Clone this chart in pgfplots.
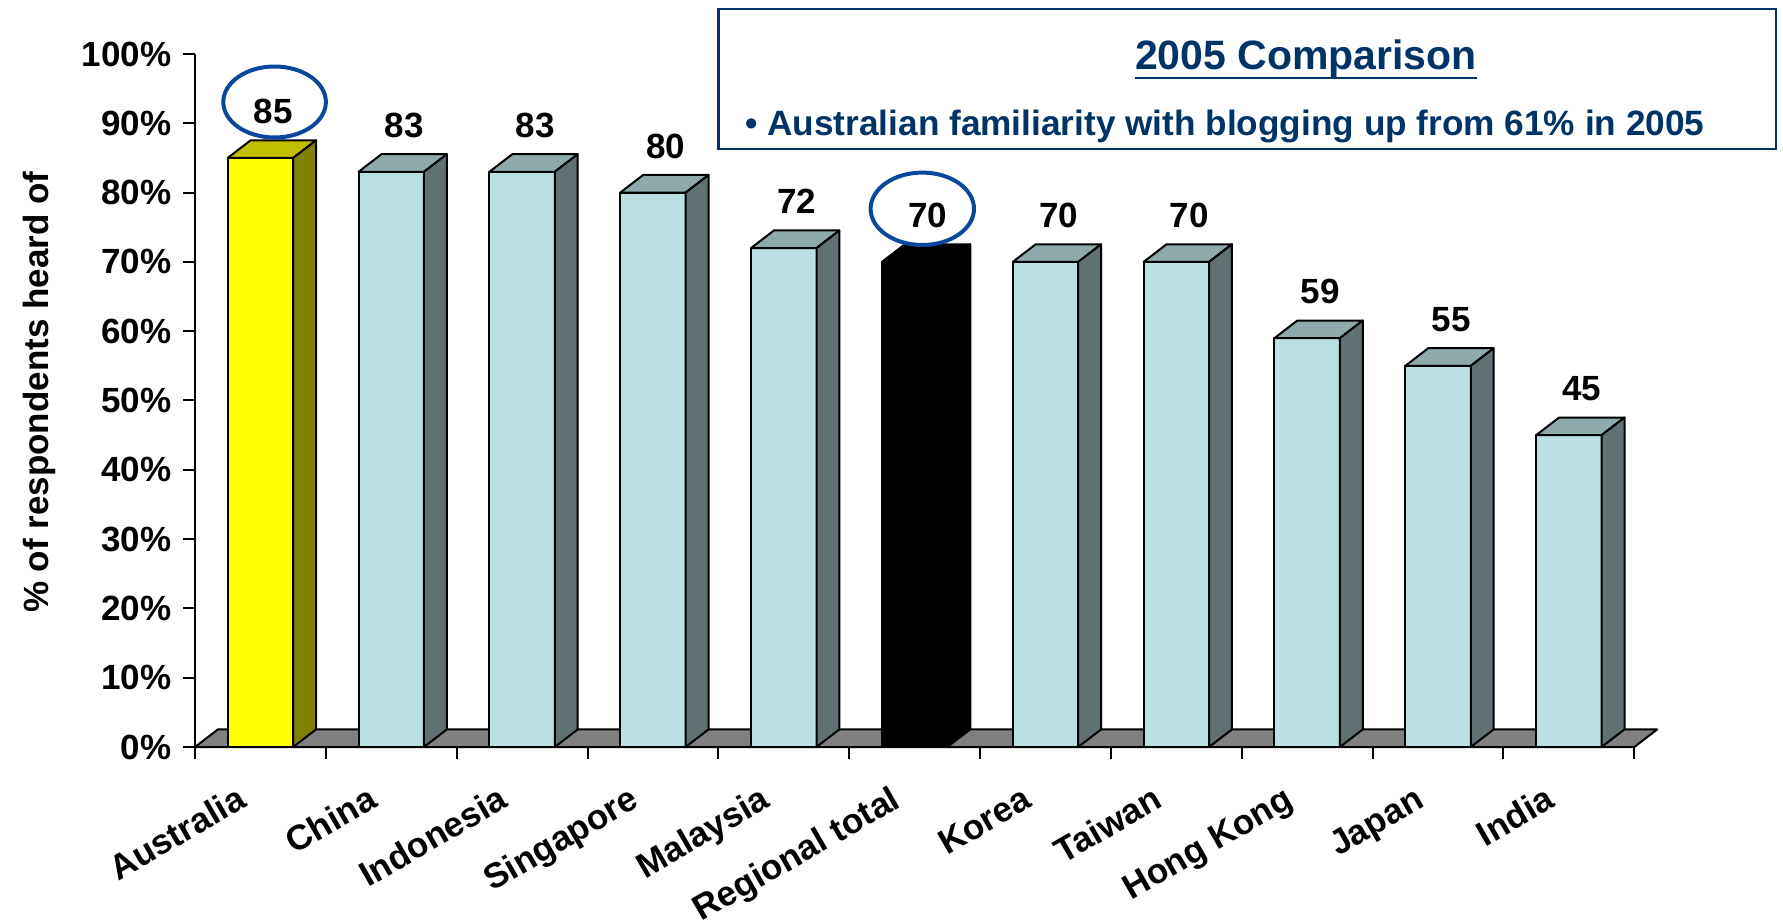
\documentclass[border=0pt]{standalone}
\usepackage{pgfplots}
\pgfplotsset{compat=1.18}
\usepackage{pgfplotstable}
\usepackage{fontspec}
\setmainfont{Liberation Sans}

\definecolor{lbfront}{RGB}{187,224,227}
\definecolor{lbtop}{RGB}{143,170,172}
\definecolor{lbside}{RGB}{95,113,115}
\definecolor{yfront}{RGB}{255,255,0}
\definecolor{ytop}{RGB}{192,192,0}
\definecolor{yside}{RGB}{128,128,0}
\definecolor{floorc}{RGB}{128,128,128}
\definecolor{navy}{RGB}{0,51,102}
\definecolor{ellc}{RGB}{10,70,155}

\pgfplotstableread{
x v
0.5 85
1.5 83
2.5 83
3.5 80
4.5 72
5.5 70
6.5 70
7.5 70
8.5 59
9.5 55
10.5 45
}\datatable

\newcommand\lblfont{\fontsize{17.5bp}{20bp}\selectfont\bfseries}

\newcommand\threedbar[5]{%
  \pgfmathsetmacro\bL{#1+0.25}%
  \pgfmathsetmacro\bR{#1+0.75}%
  \pgfmathsetmacro\bLd{#1+0.425}%
  \pgfmathsetmacro\bRd{#1+0.925}%
  \pgfmathsetmacro\bV{#2}%
  \pgfmathsetmacro\bVd{#2+2.54}%
  \addplot[fill=#3, draw=black, line width=1bp, line join=round] coordinates {(\bL,0) (\bR,0) (\bR,\bV) (\bL,\bV)} -- cycle;
  \addplot[fill=#4, draw=black, line width=1bp, line join=round] coordinates {(\bL,\bV) (\bR,\bV) (\bRd,\bVd) (\bLd,\bVd)} -- cycle;
  \addplot[fill=#5, draw=black, line width=1bp, line join=round] coordinates {(\bR,0) (\bRd,2.54) (\bRd,\bVd) (\bR,\bV)} -- cycle;
}

\begin{document}
\begin{tikzpicture}
\begin{axis}[
  at={(0,0)}, anchor=south west,
  scale only axis, width=719.65bp, height=346.5bp,
  xmin=0, xmax=11, ymin=0, ymax=100, clip=false,
  axis lines*=left,
  axis line style={line width=1bp, black},
  xtick={0,...,11}, x tick label as interval,
  xticklabels={Australia,China,Indonesia,Singapore,Malaysia,Regional total,Korea,Taiwan,Hong Kong,Japan,India},
  ytick={0,10,...,100},
  yticklabels={0\%,10\%,20\%,30\%,40\%,50\%,60\%,70\%,80\%,90\%,100\%},
  tick align=outside, major tick length=6bp,
  tick style={line width=1bp, black},
  tick label style={font=\lblfont, text=black},
  xticklabel style={xshift=-6bp, yshift=-23.5bp, rotate=30, anchor=base east, inner sep=0pt},
  yticklabel style={anchor=east, inner sep=0pt, xshift=-5.65bp},
  ylabel={\% of respondents heard of},
  ylabel style={at={(axis description cs:-0.108,0.512)}, anchor=center, font=\lblfont},
  /pgf/number format/assume math mode=true,
]
% floor
\addplot[fill=floorc, draw=black, line width=1bp, line join=round] coordinates {(0,0) (11,0) (11.175,2.54) (0.175,2.54)} -- cycle;
% bars
\threedbar{0}{85}{yfront}{ytop}{yside}
\threedbar{1}{83}{lbfront}{lbtop}{lbside}
\threedbar{2}{83}{lbfront}{lbtop}{lbside}
\threedbar{3}{80}{lbfront}{lbtop}{lbside}
\threedbar{4}{72}{lbfront}{lbtop}{lbside}
\threedbar{5}{70}{black}{black}{black}
\threedbar{6}{70}{lbfront}{lbtop}{lbside}
\threedbar{7}{70}{lbfront}{lbtop}{lbside}
\threedbar{8}{59}{lbfront}{lbtop}{lbside}
\threedbar{9}{55}{lbfront}{lbtop}{lbside}
\threedbar{10}{45}{lbfront}{lbtop}{lbside}
% value labels
\addplot[draw=none, nodes near coords, nodes near coords style={font=\lblfont, text=black, anchor=base, inner sep=0pt, xshift=6.5bp, yshift=17.2bp}] table[x=x, y=v] {\datatable};
\end{axis}
% annotations
\draw[ellc, line width=2bp] (39.8bp,322.5bp) ellipse [x radius=25.65bp, y radius=17.75bp];
\draw[ellc, line width=2bp] (363.65bp,269.1bp) ellipse [x radius=25.85bp, y radius=18.1bp];
\draw[navy, line width=1.2bp] (261.8bp,299bp) rectangle (790.5bp,369bp);
\node[anchor=base, inner sep=0pt, text=navy, font=\fontsize{20.5bp}{24bp}\selectfont\bfseries] (T) at (555.5bp,338.8bp) {2005 Comparison};
\draw[navy, line width=1.3bp] ([yshift=-4.4bp]T.base west) -- ([yshift=-4.4bp]T.base east);
\node[anchor=base west, inner sep=0pt, text=navy, font=\fontsize{17.6bp}{20bp}\selectfont\bfseries] at (275bp,305.85bp) {\textbullet\ Australian familiarity with blogging up from 61\% in 2005};
\pgfresetboundingbox
\useasboundingbox (-97.5bp,-88.5bp) rectangle (794bp,373.5bp);
\end{tikzpicture}
\end{document}
